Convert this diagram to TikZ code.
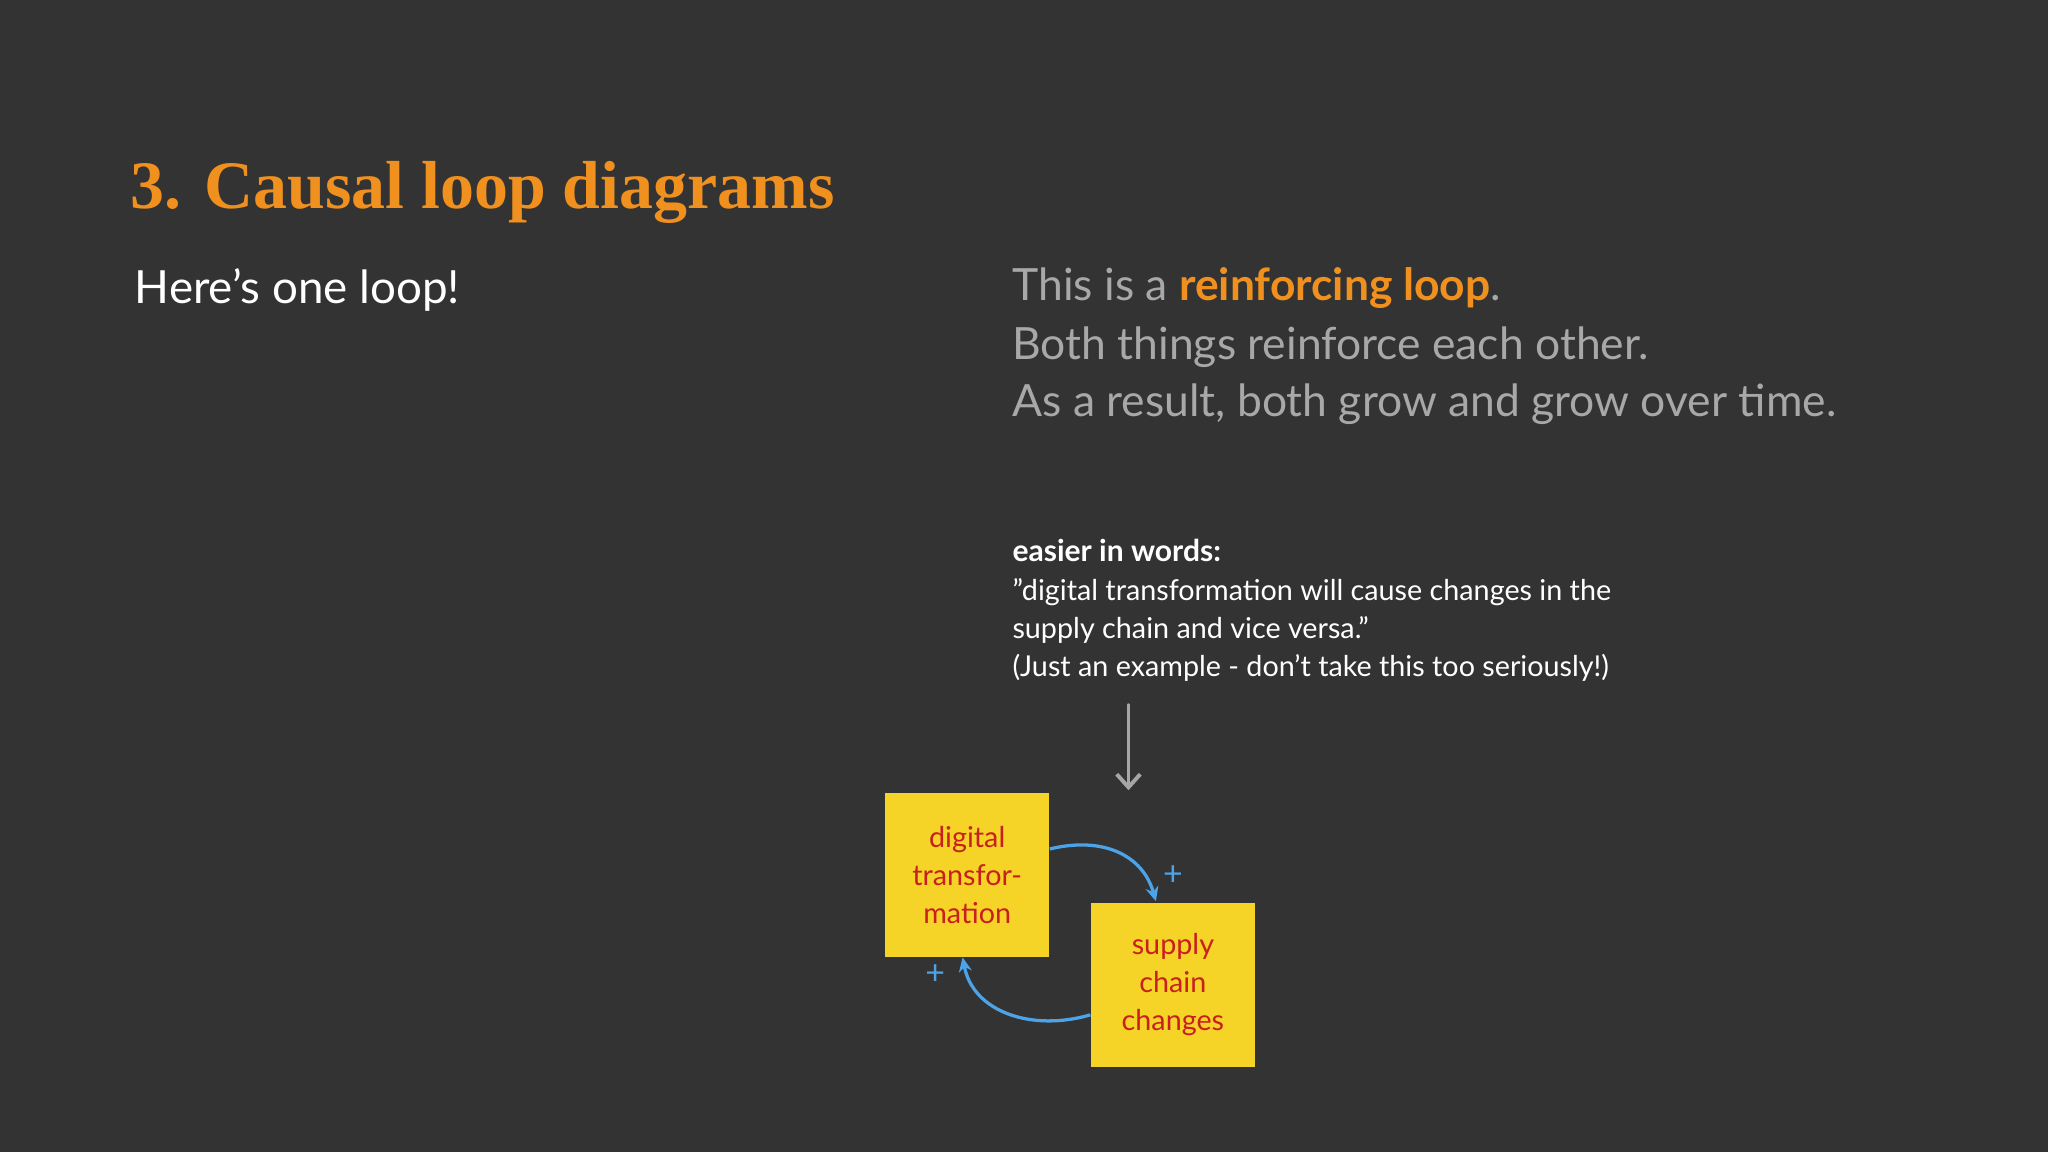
\documentclass[tikz,border=0pt]{standalone}
\usepackage{fontspec}
\setmainfont{Lato}
\newfontfamily\titlefont{Liberation Serif}
\usetikzlibrary{arrows.meta}
\definecolor{bg}{HTML}{333333}
\definecolor{org}{HTML}{F0901E}
\definecolor{gry}{HTML}{A8A8A8}
\definecolor{sticky}{HTML}{F5D327}
\definecolor{redt}{HTML}{C8201E}
\definecolor{blu}{HTML}{4DA3E8}
\tikzset{
 txt/.style={anchor=base west,inner sep=0pt,text=white},
 note/.style={fill=sticky,minimum width=126pt,minimum height=126pt,inner sep=0pt,text=redt,align=center,font=\fontsize{22}{29}\selectfont},
 link/.style={blu,line width=2.5pt,-{Stealth[length=11pt,width=10pt]}},
 pl/.style={text=blu,font=\fontsize{26}{26}\selectfont,inner sep=0pt}
}
\begin{document}
\begin{tikzpicture}[x=1pt,y=-1pt]
\fill[bg] (0,0) rectangle (1568,882);
\useasboundingbox (0,0) rectangle (1568,882);
\node[txt,text=org,font=\titlefont\bfseries\fontsize{52}{60}\selectfont] (title) at (100,160) {3. Causal loop diagrams};
\node[txt,font=\fontsize{35}{40}\selectfont] (sub) at (103,232) {Here's one loop!};
\node[txt,text=gry,font=\fontsize{34}{40}\selectfont] (r1) at (775,230) {This is a \textcolor{org}{\bfseries reinforcing loop}.};
\node[txt,text=gry,font=\fontsize{34}{40}\selectfont] (r2) at (775,275) {Both things reinforce each other.};
\node[txt,text=gry,font=\fontsize{34}{40}\selectfont] (r3) at (775,319) {As a result, both grow and grow over time.};
\node[txt,font=\bfseries\fontsize{23}{30}\selectfont] (e0) at (775,430) {easier in words:};
\node[txt,font=\fontsize{22}{30}\selectfont] (e1) at (775,460) {"digital transformation will cause changes in the};
\node[txt,font=\fontsize{22}{30}\selectfont] (e2) at (775,489) {supply chain and vice versa."};
\node[txt,font=\fontsize{22}{30}\selectfont] (e3) at (775,518) {(Just an example - don't take this too seriously!)};
\coordinate (ca) at (864,540);
\coordinate (cb) at (864,605);
\draw[gray!70,line width=3pt,line cap=round,-{Straight Barb[length=10pt,width=18pt]}] (ca) -- (cb);
\node[note] (dt) at (740.5,670) {digital\\transfor-\\mation};
\node[note] (sc) at (898,754) {supply\\chain\\changes};
\draw[link] (dt.east|-0,650) .. controls (845,640) and (875,655) .. (885,690);
\draw[link] (sc.west|-0,777) .. controls (790,790) and (745,775) .. (737,733);
\node[pl] (p1) at (898,670) {+};
\node[pl] (p2) at (716,746) {+};
\end{tikzpicture}
\end{document}
